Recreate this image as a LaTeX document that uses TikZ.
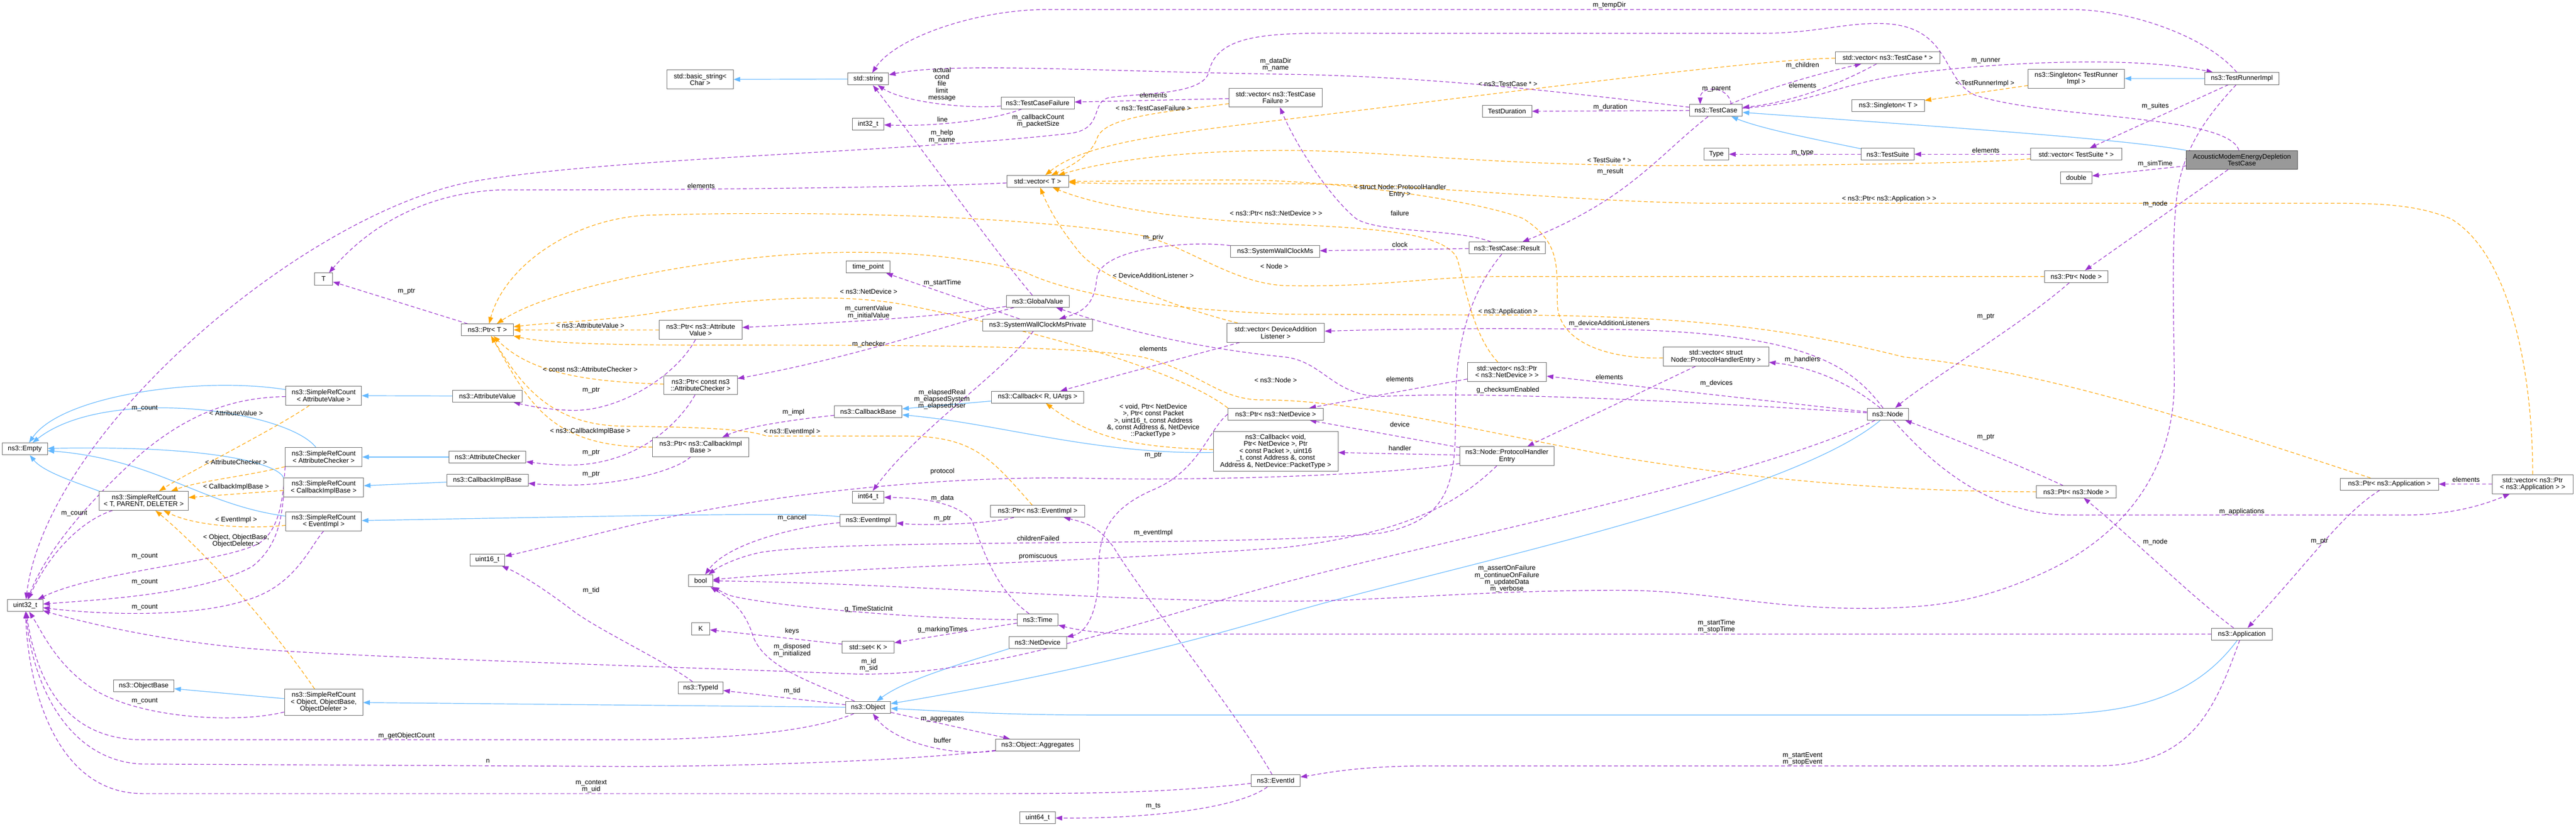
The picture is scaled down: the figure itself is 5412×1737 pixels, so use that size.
\documentclass[tikz,border=0pt]{standalone}
\usepackage{fontspec}
\setmainfont{Liberation Sans}
\usetikzlibrary{arrows.meta}
\definecolor{dxpurple}{HTML}{9A32CD}
\definecolor{dxblue}{HTML}{63B8FF}
\definecolor{dxorange}{HTML}{FFA500}
\newcommand{\doxfont}{\fontsize{14.2}{14.5}\selectfont}
\pgfdeclarelayer{bg}
\pgfdeclarelayer{edges}
\pgfsetlayers{bg,edges,main}
\tikzset{
  cls/.style={draw=black!60, fill=white, line width=0.9pt, inner sep=2pt,
    minimum height=25pt, align=center, font=\doxfont},
  focus/.style={cls, fill=black!40, draw=black!70},
  two/.style={minimum height=40pt},
  three/.style={minimum height=55pt},
  five/.style={minimum height=84pt},
  lbl/.style={font=\doxfont, align=center, inner sep=0pt},
  inherit/.style={draw=dxblue, line width=1.3pt, -{Triangle[length=14pt,width=10pt]}},
  member/.style={draw=dxpurple, line width=1.3pt, dash pattern=on 8pt off 5pt,
    -{Triangle[length=14pt,width=10pt]}},
  tmpl/.style={draw=dxorange, line width=1.3pt, dash pattern=on 8pt off 5pt,
    -{Triangle[length=14pt,width=10pt]}},
}
\begin{document}
\begin{tikzpicture}[x=1pt,y=-1pt]
\begin{pgfonlayer}{bg}
  \fill[white] (0,0) rectangle (5412,1737);
\end{pgfonlayer}
\useasboundingbox (0,0) rectangle (5412,1737);
% classes
\node[cls, minimum width=139pt, two] (basicstr) at (1471,167) {std::basic\_string<\\Char >};
\node[cls, minimum width=86pt] (stdstring) at (1824,166) {std::string};
\node[cls, minimum width=154pt] (tcfailure) at (2180,216) {ns3::TestCaseFailure};
\node[cls, minimum width=66pt] (int32) at (1824,261) {int32\_t};
\node[cls, minimum width=130pt] (vecT) at (2180,381) {std::vector< T >};
\node[cls, minimum width=196pt, two] (vecTCF) at (2680,205) {std::vector< ns3::TestCase\\Failure >};
\node[cls, minimum width=187pt] (swcms) at (2679,528) {ns3::SystemWallClockMs};
\node[cls, minimum width=92pt] (timepoint) at (1824,561) {time\_point};
\node[cls, minimum width=220pt] (vecTC) at (3966,121) {std::vector< ns3::TestCase * >};
\node[cls, minimum width=104pt] (testduration) at (3166,234) {TestDuration};
\node[cls, minimum width=111pt] (testcase) at (3605,232) {ns3::TestCase};
\node[cls, minimum width=152pt] (singletonT) at (3967,222) {ns3::Singleton< T >};
\node[cls, minimum width=52pt] (typeT) at (3606,324) {Type};
\node[cls, minimum width=111pt] (testsuite) at (3966,324) {ns3::TestSuite};
\node[cls, minimum width=160pt] (tcresult) at (3166,521) {ns3::TestCase::Result};
\node[cls, minimum width=202pt, two] (singletonTR) at (4362,165) {ns3::Singleton< TestRunner\\Impl >};
\node[cls, minimum width=155pt] (runner) at (4710,165) {ns3::TestRunnerImpl};
\node[cls, minimum width=191pt] (vecTS) at (4362,324) {std::vector< TestSuite * >};
\node[focus, minimum width=233pt, two] (acoustic) at (4710,336) {AcousticModemEnergyDepletion\\TestCase};
\node[cls, minimum width=66pt] (dbl) at (4362,373) {double};
\node[cls, minimum width=134pt] (ptrNode) at (4362,581) {ns3::Ptr< Node >};
\node[cls, minimum width=38pt] (T) at (680,586) {T};
\node[cls, minimum width=109pt] (ptrT) at (1024,693) {ns3::Ptr< T >};
\node[cls, minimum width=159pt, two] (srcAV) at (680,831) {ns3::SimpleRefCount\\< AttributeValue >};
\node[cls, minimum width=146pt] (attrvalue) at (1024,832) {ns3::AttributeValue};
\node[cls, minimum width=95pt] (empty) at (52,943) {ns3::Empty};
\node[cls, minimum width=161pt, two] (srcAC) at (680,960) {ns3::SimpleRefCount\\< AttributeChecker >};
\node[cls, minimum width=162pt] (attrchecker) at (1024,960) {ns3::AttributeChecker};
\node[cls, minimum width=168pt, two] (srcCIB) at (680,1024) {ns3::SimpleRefCount\\< CallbackImplBase >};
\node[cls, minimum width=171pt] (cib) at (1024,1009) {ns3::CallbackImplBase};
\node[cls, minimum width=187pt, two] (srcTPD) at (302,1052) {ns3::SimpleRefCount\\< T, PARENT, DELETER >};
\node[cls, minimum width=159pt, two] (srcEI) at (680,1095) {ns3::SimpleRefCount\\< EventImpl >};
\node[cls, minimum width=132pt] (globalvalue) at (2180,633) {ns3::GlobalValue};
\node[cls, minimum width=174pt, two] (ptrAV) at (1472,693) {ns3::Ptr< ns3::Attribute\\Value >};
\node[cls, minimum width=231pt] (swcmsp) at (2180,683) {ns3::SystemWallClockMsPrivate};
\node[cls, minimum width=205pt, two] (vecDAL) at (2680,699) {std::vector< DeviceAddition\\Listener >};
\node[cls, minimum width=154pt, two] (ptrAC) at (1472,809) {ns3::Ptr< const ns3\\::AttributeChecker >};
\node[cls, minimum width=194pt] (callbackR) at (2180,834) {ns3::Callback< R, UArgs >};
\node[cls, minimum width=142pt] (callbackbase) at (1824,865) {ns3::CallbackBase};
\node[cls, minimum width=200pt] (ptrND) at (2680,870) {ns3::Ptr< ns3::NetDevice >};
\node[cls, minimum width=202pt, two] (ptrCIB) at (1472,939) {ns3::Ptr< ns3::CallbackImpl\\Base >};
\node[cls, minimum width=262pt, five] (callbackV) at (2680,948) {ns3::Callback< void,\\Ptr< NetDevice >, Ptr\\< const Packet >, uint16\\\_t, const Address \&, const\\Address \&, NetDevice::PacketType >};
\node[cls, minimum width=66pt] (int64) at (1824,1044) {int64\_t};
\node[cls, minimum width=198pt] (ptrEI) at (2180,1074) {ns3::Ptr< ns3::EventImpl >};
\node[cls, minimum width=118pt] (eventimpl) at (1824,1093) {ns3::EventImpl};
\node[cls, minimum width=222pt, two] (vecPHE) at (3605,749) {std::vector< struct\\Node::ProtocolHandlerEntry >};
\node[cls, minimum width=166pt, two] (vecPND) at (3166,781) {std::vector< ns3::Ptr\\< ns3::NetDevice > >};
\node[cls, minimum width=87pt] (nsnode) at (3966,870) {ns3::Node};
\node[cls, minimum width=198pt, two] (phe) at (3166,958) {ns3::Node::ProtocolHandler\\Entry};
\node[cls, minimum width=206pt] (ptrApp) at (5020,1017) {ns3::Ptr< ns3::Application >};
\node[cls, minimum width=170pt, two] (vecPApp) at (5321,1017) {std::vector< ns3::Ptr\\< ns3::Application > >};
\node[cls, minimum width=167pt] (ptrNsNode) at (4362,1033) {ns3::Ptr< ns3::Node >};
\node[cls, minimum width=73pt] (uint16) at (1024,1176) {uint16\_t};
\node[cls, minimum width=74pt] (uint32) at (53,1272) {uint32\_t};
\node[cls, minimum width=127pt] (objectbase) at (302,1441) {ns3::ObjectBase};
\node[cls, minimum width=165pt, three] (srcObj) at (680,1475) {ns3::SimpleRefCount\\< Object, ObjectBase,\\ObjectDeleter >};
\node[cls, minimum width=50pt] (boolT) at (1472,1220) {bool};
\node[cls, minimum width=86pt] (nstime) at (2180,1302) {ns3::Time};
\node[cls, minimum width=38pt] (K) at (1472,1321) {K};
\node[cls, minimum width=109pt] (stdset) at (1824,1359) {std::set< K >};
\node[cls, minimum width=121pt] (netdevice) at (2180,1350) {ns3::NetDevice};
\node[cls, minimum width=94pt] (typeid) at (1472,1445) {ns3::TypeId};
\node[cls, minimum width=94pt] (nsobject) at (1824,1486) {ns3::Object};
\node[cls, minimum width=176pt] (aggregates) at (2180,1565) {ns3::Object::Aggregates};
\node[cls, minimum width=103pt] (eventid) at (2680,1640) {ns3::EventId};
\node[cls, minimum width=74pt] (uint64) at (2180,1718) {uint64\_t};
\node[cls, minimum width=127pt] (application) at (4710,1332) {ns3::Application};

\begin{pgfonlayer}{edges}
% inheritance
\draw[inherit] (stdstring) -- (basicstr);
\draw[inherit] (testsuite) .. controls (3800,290) and (3700,270) .. (testcase);
\draw[inherit] (acoustic) .. controls (4450,291) and (4100,268) .. (testcase);
\draw[inherit] (runner) -- (singletonTR);
\draw[inherit] (attrvalue) -- (srcAV);
\draw[inherit] (attrchecker) -- (srcAC);
\draw[inherit] (cib) -- (srcCIB);
\draw[inherit] (eventimpl) .. controls (1690,1076) and (1400,1082) .. (srcEI);
\draw[inherit] (srcAV) .. controls (420,790) and (130,830) .. (empty);
\draw[inherit] (srcAC) .. controls (600,860) and (220,810) .. (empty);
\draw[inherit] (srcCIB.north west) .. controls (585,975) and (450,935) .. (empty);
\draw[inherit] (srcEI) .. controls (420,1060) and (330,965) .. (empty);
\draw[inherit] (srcTPD.north west) .. controls (150,1010) and (90,990) .. (empty);
\draw[inherit] (callbackR) -- (callbackbase);
\draw[inherit] (callbackV) .. controls (2300,955) and (2100,890) .. (callbackbase);
\draw[inherit] (srcObj) -- (objectbase);
\draw[inherit] (nsobject) -- (srcObj);
\draw[inherit] (netdevice.south west) .. controls (2000,1400) and (1900,1430) .. (nsobject);
\draw[inherit] (nsnode) .. controls (3750,1050) and (3000,1200) .. (2700,1290)
  .. controls (2400,1380) and (2100,1440) .. (nsobject);
\draw[inherit] (application) .. controls (4600,1480) and (4450,1502) .. (4250,1502)
  -- (2300,1502) .. controls (2100,1502) and (1950,1492) .. (nsobject);
% template instances
\draw[tmpl] (srcAV) .. controls (580,900) and (400,990) .. (srcTPD);
\draw[tmpl] (srcAC) .. controls (520,1000) and (420,1010) .. (srcTPD);
\draw[tmpl] (srcCIB) -- (srcTPD);
\draw[tmpl] (srcEI) .. controls (520,1112) and (410,1105) .. (srcTPD);
\draw[tmpl] (srcObj) .. controls (560,1300) and (420,1150) .. (srcTPD);
\draw[tmpl] (ptrAV) -- (ptrT);
\draw[tmpl] (ptrAC) .. controls (1220,802) and (1110,780) .. (ptrT);
\draw[tmpl] (ptrCIB) .. controls (1150,940) and (1110,840) .. (ptrT);
\draw[tmpl] (ptrEI) .. controls (2080,960) and (2044,916) .. (1900,916) -- (1610,916)
  .. controls (1560,897) and (1400,897) .. (1300,895) .. controls (1150,890) and (1090,800) .. (ptrT);
\draw[tmpl] (ptrND.north west) .. controls (2480,780) and (2200,700) .. (1900,640)
  .. controls (1780,618) and (1600,620) .. (1360,660) .. controls (1250,675) and (1150,678) .. (ptrT);
\draw[tmpl] (ptrNsNode) .. controls (4000,1033) and (3700,1010) .. (3400,960)
  .. controls (3100,905) and (2850,840) .. (2650,840) .. controls (2560,840) and (2520,780) .. (2400,750)
  .. controls (2250,725) and (1900,725) .. (1500,725) .. controls (1300,725) and (1150,722) .. (ptrT);
\draw[tmpl] (ptrNode) -- (3150,581) .. controls (3000,581) and (2900,604) .. (2700,600)
  .. controls (2590,595) and (2500,520) .. (2400,495) .. controls (2200,460) and (1800,440) .. (1360,452)
  .. controls (1200,460) and (1060,560) .. (ptrT);
\draw[tmpl] (ptrApp) .. controls (4600,880) and (4300,780) .. (4000,750)
  .. controls (3800,700) and (3600,665) .. (3200,662) -- (2700,660)
  .. controls (2450,650) and (2250,620) .. (2150,570) .. controls (2000,530) and (1800,520) .. (1600,540)
  .. controls (1400,560) and (1150,610) .. (ptrT);
\draw[tmpl] (vecTCF) .. controls (2450,235) and (2320,245) .. (2305,290)
  .. controls (2295,320) and (2260,345) .. (vecT);
\draw[tmpl] (vecTC) .. controls (3700,124) and (3200,190) .. (2700,251)
  .. controls (2450,281) and (2280,300) .. (vecT);
\draw[tmpl] (vecTS) .. controls (4150,345) and (3700,348) .. (3480,348)
  .. controls (3100,345) and (2900,316) .. (2700,316) .. controls (2450,316) and (2300,345) .. (vecT);
\draw[tmpl] (vecPND) .. controls (3090,700) and (3075,580) .. (3060,540)
  .. controls (3030,490) and (2900,480) .. (2700,471) .. controls (2450,460) and (2300,430) .. (vecT);
\draw[tmpl] (vecDAL) .. controls (2450,640) and (2300,580) .. (2260,520)
  .. controls (2220,470) and (2200,430) .. (vecT);
\draw[tmpl] (vecPHE) .. controls (3380,755) and (3275,720) .. (3272,640)
  .. controls (3270,560) and (3280,510) .. (3200,459) .. controls (3100,420) and (2800,378) .. (2600,378)
  .. controls (2450,378) and (2350,381) .. (vecT);
\draw[tmpl] (vecPApp) .. controls (5321,800) and (5280,540) .. (5150,460)
  .. controls (5080,430) and (5000,427) .. (4900,427) -- (3600,427)
  .. controls (3300,425) and (3000,386) .. (2700,386) .. controls (2500,386) and (2350,387) .. (vecT);
\draw[tmpl] (singletonTR) -- (singletonT);
\draw[tmpl] (callbackV) .. controls (2400,940) and (2300,925) .. (callbackR);
% members
\draw[member] (ptrT) -- (T);
\draw[member] (vecT) .. controls (1900,395) and (1400,399) .. (1050,399)
  .. controls (900,405) and (780,470) .. (T);
\draw[member] (tcfailure) .. controls (2030,229) and (1900,215) .. (stdstring);
\draw[member] (tcfailure) .. controls (2080,255) and (1950,266) .. (int32);
\draw[member] (globalvalue) .. controls (2100,540) and (1950,330) .. (stdstring);
\draw[member] (testcase) .. controls (3300,195) and (3000,160) .. (2700,156)
  .. controls (2300,150) and (2000,130) .. (stdstring);
\draw[member] (runner) .. controls (4640,80) and (4480,20) .. (4350,20) -- (2200,20)
  .. controls (2050,20) and (1880,80) .. (stdstring);
\draw[member] (acoustic) .. controls (4680,240) and (4300,250) .. (4150,200)
  .. controls (4080,170) and (4100,60) .. (3966,50) .. controls (3880,45) and (3820,70) .. (3700,70)
  -- (2900,70) .. controls (2700,70) and (2560,60) .. (2540,150)
  .. controls (2530,200) and (2400,195) .. (2330,205) .. controls (2290,215) and (2320,270) .. (2250,280)
  .. controls (1900,320) and (1300,330) .. (1000,380) .. controls (650,440) and (100,900) .. (uint32);
\draw[member] (vecTCF) -- (tcfailure);
\draw[member] (tcresult) .. controls (3060,480) and (2900,490) .. (2850,460)
  .. controls (2800,420) and (2730,320) .. (vecTCF);
\draw[member] (testcase) -- (testduration);
\draw[member] ([xshift=32pt]testcase.north) .. controls +(-5,-40) and +(0,-40) .. ([xshift=-33pt]testcase.north);
\draw[member] (testcase) .. controls (3700,190) and (3800,160) .. (vecTC);
\draw[member] (vecTC) .. controls (3860,180) and (3760,215) .. (testcase);
\draw[member] (testcase) .. controls (3830,214) and (3860,170) .. (4060,149)
  .. controls (4250,128) and (4500,120) .. (runner);
\draw[member] (testsuite) -- (typeT);
\draw[member] (vecTS) -- (testsuite);
\draw[member] (runner) -- (vecTS);
\draw[member] (acoustic) -- (dbl);
\draw[member] (acoustic) -- (ptrNode);
\draw[member] (testcase) .. controls (3480,330) and (3420,420) .. (tcresult);
\draw[member] (tcresult) -- (swcms);
\draw[member] (swcms) .. controls (2500,505) and (2320,520) .. (2305,580)
  .. controls (2300,620) and (2295,650) .. (swcmsp);
\draw[member] (swcmsp) -- (timepoint);
\draw[member] (swcmsp) .. controls (2110,780) and (1930,900) .. (int64);
\draw[member] (globalvalue) .. controls (1950,670) and (1700,680) .. (ptrAV);
\draw[member] (globalvalue) .. controls (2000,680) and (1800,750) .. (ptrAC);
\draw[member] (nsnode) .. controls (3500,840) and (3100,822) .. (2900,833)
  .. controls (2800,830) and (2780,760) .. (2700,750) .. controls (2500,730) and (2350,690) .. (globalvalue);
\draw[member] (ptrAV) .. controls (1420,790) and (1300,865) .. (1200,862)
  .. controls (1140,860) and (1100,850) .. (attrvalue);
\draw[member] (ptrAC) .. controls (1420,900) and (1330,975) .. (1200,977)
  .. controls (1160,977) and (1130,973) .. (attrchecker);
\draw[member] (ptrCIB) .. controls (1420,990) and (1300,1018) .. (1200,1019)
  .. controls (1160,1019) and (1130,1017) .. (cib);
\draw[member] (callbackbase) .. controls (1680,880) and (1570,895) .. (ptrCIB);
\draw[member] (vecDAL) -- (callbackR);
\draw[member] (nsnode) .. controls (3890,770) and (3800,700) .. (3400,692)
  .. controls (3100,688) and (2900,692) .. (vecDAL);
\draw[member] (nsnode) .. controls (3880,800) and (3800,770) .. (vecPHE);
\draw[member] (nsnode) -- (vecPND);
\draw[member] (vecPND) -- (ptrND);
\draw[member] (vecPHE) -- (phe);
\draw[member] (phe) -- (ptrND);
\draw[member] (phe) -- (callbackV);
\draw[member] (phe) .. controls (2900,1000) and (2500,1010) .. (2300,1005)
  .. controls (1900,995) and (1500,1060) .. (1300,1110) .. controls (1200,1135) and (1100,1160) .. (uint16);
\draw[member] (phe) .. controls (3060,1060) and (2950,1120) .. (2700,1150)
  .. controls (2300,1180) and (1800,1190) .. (boolT);
\draw[member] (tcresult) .. controls (3100,600) and (3058,700) .. (3058,850)
  .. controls (3058,1000) and (3058,1090) .. (2900,1120) .. controls (2600,1150) and (1800,1130) .. (1600,1160)
  .. controls (1550,1170) and (1510,1190) .. (boolT);
\draw[member] (ptrND.west) .. controls (2540,900) and (2520,990) .. (2420,1030)
  .. controls (2330,1070) and (2308,1120) .. (2308,1200) .. controls (2308,1290) and (2280,1330) .. (netdevice);
\draw[member] (ptrEI) .. controls (2080,1100) and (1950,1105) .. (eventimpl);
\draw[member] (eventimpl) .. controls (1680,1105) and (1530,1140) .. (boolT);
\draw[member] (nstime) .. controls (2080,1230) and (2060,1130) .. (2040,1090)
  .. controls (2000,1050) and (1920,1046) .. (int64);
\draw[member] (eventid) .. controls (2600,1500) and (2400,1250) .. (2340,1150)
  .. controls (2310,1110) and (2290,1100) .. (ptrEI);
\draw[member] (runner) .. controls (4650,230) and (4590,300) .. (4575,400)
  .. controls (4560,500) and (4568,700) .. (4568,800) .. controls (4568,1000) and (4450,1130) .. (4300,1200)
  .. controls (4150,1270) and (4050,1275) .. (3940,1278) .. controls (3700,1280) and (3600,1240) .. (3400,1240)
  .. controls (3100,1240) and (2900,1263) .. (2700,1263) .. controls (2300,1263) and (1900,1225) .. (boolT);
\draw[member] (nstime) .. controls (1900,1300) and (1600,1270) .. (1530,1250) -- (boolT);
\draw[member] (nstime) -- (stdset);
\draw[member] (stdset) -- (K);
\draw[member] (nsobject) .. controls (1700,1430) and (1600,1400) .. (1580,1330)
  .. controls (1560,1270) and (1520,1250) .. (boolT);
\draw[member] (nsobject) -- (typeid);
\draw[member] (nsobject) -- (aggregates);
\draw[member] (aggregates) .. controls (2000,1590) and (1880,1560) .. (nsobject);
\draw[member] (typeid) .. controls (1400,1390) and (1250,1320) .. (1200,1280)
  .. controls (1120,1220) and (1080,1200) .. (uint16);
\draw[member] (nsnode) .. controls (3700,1000) and (3100,1120) .. (2750,1210)
  .. controls (2400,1300) and (2100,1420) .. (1800,1416) .. controls (1400,1400) and (700,1380) .. (500,1360)
  .. controls (300,1340) and (150,1300) .. (uint32);
\draw[member] (nsobject) .. controls (1700,1540) and (1500,1554) .. (1300,1554) -- (300,1554)
  .. controls (150,1554) and (80,1450) .. (uint32);
\draw[member] (aggregates) .. controls (1900,1600) and (1500,1611) .. (1300,1610) -- (300,1605)
  .. controls (150,1600) and (70,1450) .. (uint32);
\draw[member] (eventid) .. controls (2450,1665) and (2300,1667) .. (2100,1667) -- (300,1667)
  .. controls (120,1667) and (60,1450) .. (uint32);
\draw[member] (eventid) .. controls (2600,1700) and (2400,1720) .. (uint64);
\draw[member] (application) .. controls (4650,1500) and (4600,1609) .. (4400,1609) -- (3000,1609)
  .. controls (2850,1609) and (2780,1625) .. (eventid);
\draw[member] (application) -- (2400,1332) .. controls (2300,1332) and (2250,1320) .. (nstime);
\draw[member] (application) .. controls (4600,1250) and (4480,1130) .. (ptrNsNode);
\draw[member] (ptrApp) .. controls (4920,1080) and (4860,1170) .. (application);
\draw[member] (nsnode) .. controls (4080,1000) and (4200,1082) .. (4350,1082) -- (5050,1082)
  .. controls (5150,1082) and (5220,1060) .. (vecPApp);
\draw[member] (vecPApp) -- (ptrApp);
\draw[member] (ptrNode) .. controls (4250,680) and (4050,800) .. (nsnode);
\draw[member] (ptrNsNode) .. controls (4250,980) and (4050,900) .. (nsnode);
\draw[member] (srcAV) .. controls (520,835) and (420,850) .. (300,950)
  .. controls (200,1040) and (100,1150) .. (uint32);
\draw[member] (srcTPD) .. controls (180,1090) and (110,1150) .. (uint32);
\draw[member] (srcAC.south west) .. controls (595,1040) and (590,1110) .. (546,1140)
  .. controls (480,1180) and (200,1200) .. (uint32);
\draw[member] (srcCIB.south west) .. controls (590,1100) and (580,1150) .. (530,1190)
  .. controls (420,1250) and (200,1260) .. (uint32);
\draw[member] (srcEI.south) .. controls (650,1150) and (620,1230) .. (520,1260)
  .. controls (400,1300) and (200,1290) .. (uint32);
\draw[member] (srcObj) .. controls (500,1520) and (300,1510) .. (200,1450)
  .. controls (120,1400) and (90,1330) .. (uint32);
\end{pgfonlayer}

% edge labels
\node[lbl] (lTempDir) at (3381,11) {m\_tempDir};
\node[lbl] (lDataDir) at (2680,136) {m\_dataDir\\m\_name};
\node[lbl] (lActual) at (1979,177) {actual\\cond\\file\\limit\\message};
\node[lbl] (lLine) at (1980,251) {line};
\node[lbl] (lCallbackCount) at (2181,254) {m\_callbackCount\\m\_packetSize};
\node[lbl] (lHelp) at (1979,287) {m\_help\\m\_name};
\node[lbl] (lElemTCF) at (2423,200) {elements};
\node[lbl] (lTplTCF) at (2423,227) {< ns3::TestCaseFailure >};
\node[lbl] (lElemT) at (1473,390) {elements};
\node[lbl] (lPtrT) at (854,612) {m\_ptr};
\node[lbl] (lTplPND) at (2681,448) {< ns3::Ptr< ns3::NetDevice > >};
\node[lbl] (lPriv) at (2423,499) {m\_priv};
\node[lbl] (lTplNode) at (2677,559) {< Node >};
\node[lbl] (lTplDAL) at (2423,579) {< DeviceAdditionListener >};
\node[lbl] (lStartTime) at (1980,594) {m\_startTime};
\node[lbl] (lChildren) at (3787,137) {m\_children};
\node[lbl] (lElemTC) at (3787,179) {elements};
\node[lbl] (lParent) at (3606,187) {m\_parent};
\node[lbl] (lTplTC) at (3168,176) {< ns3::TestCase * >};
\node[lbl] (lDuration) at (3383,225) {m\_duration};
\node[lbl] (lType) at (3787,321) {m\_type};
\node[lbl] (lTplTS) at (3381,336) {< TestSuite * >};
\node[lbl] (lResult) at (3383,360) {m\_result};
\node[lbl] (lTplPHE) at (2941,401) {< struct Node::ProtocolHandler\\Entry >};
\node[lbl] (lFailure) at (2941,448) {failure};
\node[lbl] (lTplPApp) at (3969,418) {< ns3::Ptr< ns3::Application > >};
\node[lbl] (lClock) at (2941,514) {clock};
\node[lbl] (lRunner) at (4172,128) {m\_runner};
\node[lbl] (lTplTR) at (4170,176) {< TestRunnerImpl >};
\node[lbl] (lSuites) at (4528,223) {m\_suites};
\node[lbl] (lElemTS) at (4172,316) {elements};
\node[lbl] (lSimTime) at (4528,344) {m\_simTime};
\node[lbl] (lNodeA) at (4528,429) {m\_node};
\node[lbl] (lTplAV) at (1240,684) {< ns3::AttributeValue >};
\node[lbl] (lTplAC) at (1240,776) {< const ns3::AttributeChecker >};
\node[lbl] (lPtrAV) at (1242,820) {m\_ptr};
\node[lbl] (lCountAV) at (304,858) {m\_count};
\node[lbl] (lTplSAV) at (496,868) {< AttributeValue >};
\node[lbl] (lTplCIB) at (1240,906) {< ns3::CallbackImplBase >};
\node[lbl] (lPtrAC) at (1242,951) {m\_ptr};
\node[lbl] (lTplSAC) at (496,971) {< AttributeChecker >};
\node[lbl] (lPtrCIB) at (1242,996) {m\_ptr};
\node[lbl] (lTplSCIB) at (496,1023) {< CallbackImplBase >};
\node[lbl] (lCountTPD) at (156,1079) {m\_count};
\node[lbl] (lTplSEI) at (496,1092) {< EventImpl >};
\node[lbl] (lTplSObj) at (496,1136) {< Object, ObjectBase,\\ObjectDeleter >};
\node[lbl] (lTplND) at (1825,612) {< ns3::NetDevice >};
\node[lbl] (lCurrent) at (1825,656) {m\_currentValue\\m\_initialValue};
\node[lbl] (lChecker) at (1825,723) {m\_checker};
\node[lbl] (lElemDAL) at (2423,733) {elements};
\node[lbl] (lTplNsNode) at (2680,799) {< ns3::Node >};
\node[lbl] (lElapsed) at (1979,839) {m\_elapsedReal\\m\_elapsedSystem\\m\_elapsedUser};
\node[lbl] (lImpl) at (1667,866) {m\_impl};
\node[lbl] (lTplCbV) at (2423,884) {< void, Ptr< NetDevice\\>, Ptr< const Packet\\>, uint16\_t, const Address\\\&, const Address \&, NetDevice\\::PacketType >};
\node[lbl] (lTplEI) at (1664,907) {< ns3::EventImpl >};
\node[lbl] (lPtrND) at (2423,956) {m\_ptr};
\node[lbl] (lProtocol) at (1980,990) {protocol};
\node[lbl] (lData) at (1980,1047) {m\_data};
\node[lbl] (lCancel) at (1664,1088) {m\_cancel};
\node[lbl] (lPtrEI) at (1980,1090) {m\_ptr};
\node[lbl] (lEventImpl) at (2423,1119) {m\_eventImpl};
\node[lbl] (lChildrenFailed) at (2181,1131) {childrenFailed};
\node[lbl] (lPromiscuous) at (2181,1169) {promiscuous};
\node[lbl] (lTplApp) at (3168,655) {< ns3::Application >};
\node[lbl] (lListeners) at (3381,680) {m\_deviceAdditionListeners};
\node[lbl] (lHandlers) at (3787,756) {m\_handlers};
\node[lbl] (lElemPND) at (2941,796) {elements};
\node[lbl] (lElemPHE) at (3381,792) {elements};
\node[lbl] (lDevices) at (3606,805) {m\_devices};
\node[lbl] (lChecksum) at (3168,819) {g\_checksumEnabled};
\node[lbl] (lDevice) at (2941,892) {device};
\node[lbl] (lHandler) at (2941,942) {handler};
\node[lbl] (lPtrNode) at (4172,665) {m\_ptr};
\node[lbl] (lPtrNsNode) at (4172,919) {m\_ptr};
\node[lbl] (lElemPApp) at (5181,1008) {elements};
\node[lbl] (lApplications) at (4710,1075) {m\_applications};
\node[lbl] (lNodeApp) at (4528,1139) {m\_node};
\node[lbl] (lPtrApp) at (4873,1137) {m\_ptr};
\node[lbl] (lCountAC) at (304,1168) {m\_count};
\node[lbl] (lCountCIB) at (304,1223) {m\_count};
\node[lbl] (lCountEI) at (304,1276) {m\_count};
\node[lbl] (lTidT) at (1242,1240) {m\_tid};
\node[lbl] (lCountObj) at (304,1473) {m\_count};
\node[lbl] (lObjectCount) at (854,1546) {m\_getObjectCount};
\node[lbl] (lN) at (1025,1599) {n};
\node[lbl] (lContext) at (1242,1652) {m\_context\\m\_uid};
\node[lbl] (lStaticInit) at (1825,1280) {g\_TimeStaticInit};
\node[lbl] (lKeys) at (1664,1326) {keys};
\node[lbl] (lMarking) at (1980,1323) {g\_markingTimes};
\node[lbl] (lDisposed) at (1664,1366) {m\_disposed\\m\_initialized};
\node[lbl] (lId) at (1825,1397) {m\_id\\m\_sid};
\node[lbl] (lTidO) at (1664,1452) {m\_tid};
\node[lbl] (lAggregates) at (1980,1511) {m\_aggregates};
\node[lbl] (lBuffer) at (1980,1555) {buffer};
\node[lbl] (lTs) at (2423,1693) {m\_ts};
\node[lbl] (lAssert) at (3166,1216) {m\_assertOnFailure\\m\_continueOnFailure\\m\_updateData\\m\_verbose};
\node[lbl] (lStartStop) at (3606,1316) {m\_startTime\\m\_stopTime};
\node[lbl] (lEvents) at (3787,1594) {m\_startEvent\\m\_stopEvent};
\end{tikzpicture}
\end{document}
